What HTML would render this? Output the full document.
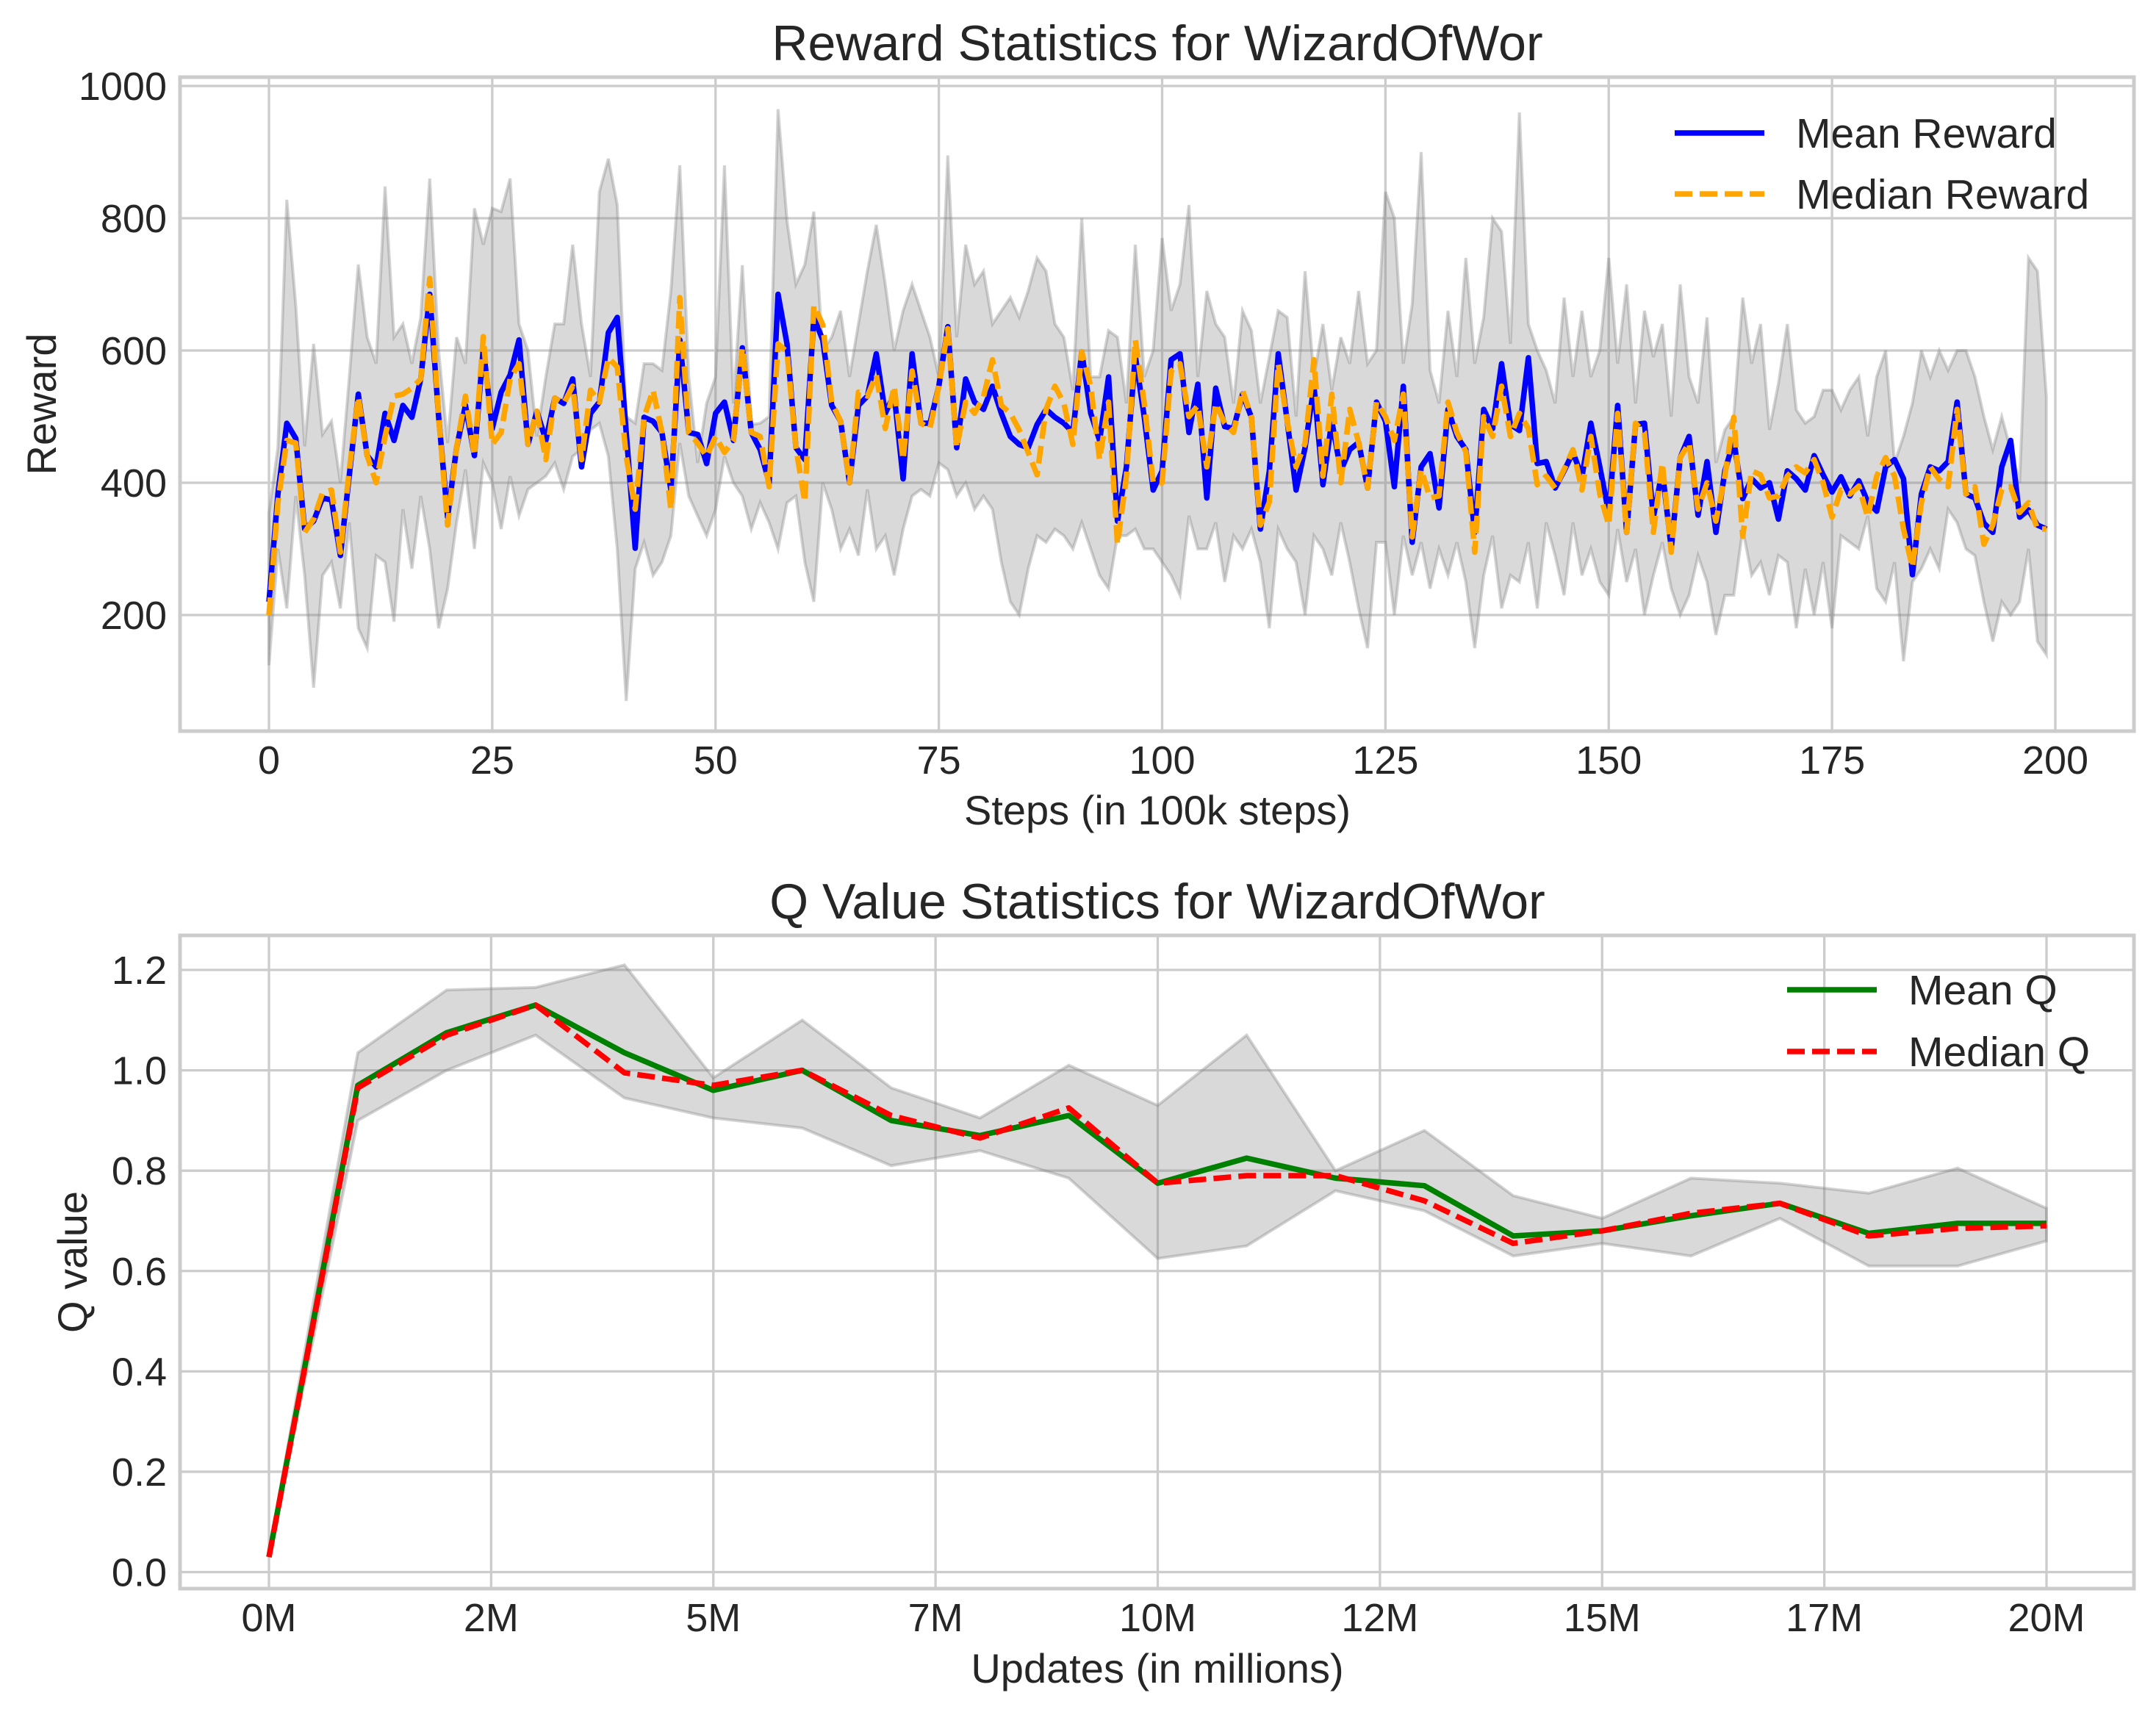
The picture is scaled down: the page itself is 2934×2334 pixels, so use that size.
<!DOCTYPE html>
<html><head><meta charset="utf-8"><title>WizardOfWor stats</title>
<style>
html,body{margin:0;padding:0;background:#fff;}
svg{display:block;font-family:"Liberation Sans",Arial,sans-serif;}
</style></head>
<body>
<svg id="fig" width="2934" height="2334" viewBox="0 0 2934 2334" xmlns="http://www.w3.org/2000/svg">
<rect x="0" y="0" width="2934" height="2334" fill="#fff"/>
<g id="top"></g>
<g id="bot"></g>
</svg>
<script>
// ---------- Reward data ----------
const rewardMean = [
220,383,490,467,330,342,377,374,290,412,
534,441,424,505,464,517,499,557,685,500,
348,453,517,441,604,482,537,563,616,458,
508,464,528,520,557,424,505,522,627,650,
476,301,499,493,476,389,616,476,473,429,
505,522,464,604,476,450,400,685,610,453,
435,650,616,517,493,400,517,531,595,505,
534,406,595,490,490,546,636,453,557,522,
511,546,505,470,458,453,488,511,499,490,
476,598,505,464,560,342,424,592,499,389,
418,586,595,476,549,377,543,485,482,534,
499,330,418,595,493,389,453,546,397,493,
418,450,461,392,522,493,394,546,310,424,
444,362,511,470,450,325,511,482,580,488,
479,589,429,432,392,418,446,409,490,424,
354,517,325,488,490,348,418,301,438,470,
351,432,325,418,464,376,406,392,400,345,
418,406,389,441,412,386,409,380,403,371,
357,424,435,406,261,383,424,418,432,522,
383,377,339,325,424,464,348,359,336,330];
const rewardMedian = [
200,370,464,460,325,345,385,389,295,420,
530,441,400,470,531,534,543,557,709,500,
336,453,531,441,621,458,476,557,580,458,
508,435,528,520,546,435,540,522,589,575,
440,360,499,540,476,360,680,476,460,440,
470,446,464,604,476,470,394,610,598,453,
371,668,639,522,493,400,537,531,563,482,
546,435,569,490,482,546,633,453,522,505,
530,586,517,505,480,446,412,511,546,520,
458,598,546,435,522,307,410,616,520,400,
400,569,580,500,517,424,520,490,476,540,
499,336,371,580,493,424,460,586,410,534,
400,511,461,392,522,500,464,534,318,420,
377,380,522,476,447,295,500,470,546,470,
505,482,397,410,392,420,450,389,470,383,
336,505,325,490,476,325,430,295,438,460,
360,400,342,410,499,319,418,412,377,380,
410,424,415,435,400,348,389,383,395,348,
410,438,410,330,272,370,424,405,394,511,
383,394,307,336,390,394,355,370,330,330];
const rewardUpper = [
354,453,828,668,455,610,473,493,400,560,
730,620,580,848,620,640,580,650,860,600,
460,620,580,815,760,815,810,860,640,600,
470,560,640,640,760,640,560,840,890,820,
500,490,580,580,570,690,880,560,430,520,
560,880,520,729,488,490,500,965,796,700,
730,810,600,620,660,560,640,720,790,700,
600,660,700,660,620,560,895,620,760,700,
720,640,660,680,650,690,740,720,640,620,
540,800,560,560,630,620,520,760,560,600,
770,660,700,820,560,690,640,620,520,660,
630,520,590,660,650,500,720,560,640,540,
620,580,690,580,600,840,800,580,670,900,
570,520,660,560,740,580,650,800,780,610,
960,640,600,570,520,680,560,660,560,600,
740,580,700,520,660,590,640,500,700,560,
520,650,430,480,500,680,580,640,480,550,
640,510,490,500,540,540,510,540,560,470,
560,600,430,470,520,600,560,600,570,600,
600,560,500,450,500,450,400,740,720,530];
const rewardLower = [
124,300,210,380,260,90,260,280,210,340,
180,150,290,280,190,360,270,380,300,180,
240,340,420,300,430,400,330,410,350,390,
400,410,430,390,440,450,480,490,440,300,
70,270,310,260,280,320,460,380,350,320,
360,440,400,380,330,370,340,300,370,380,
280,220,400,360,300,330,290,390,300,320,
260,330,380,390,380,430,420,380,400,360,
380,360,280,220,200,270,320,310,330,320,
300,340,300,260,240,320,320,330,300,300,
280,260,230,350,300,300,340,250,320,300,
330,280,180,330,300,280,200,320,300,260,
340,280,210,150,310,310,200,320,260,310,
240,300,260,310,250,150,260,320,210,260,
250,310,210,340,290,230,340,260,300,250,
230,330,250,300,200,260,310,240,200,230,
290,250,170,230,230,330,260,280,230,290,
280,180,270,200,280,180,320,310,300,350,
240,220,280,130,250,270,300,270,360,340,
300,290,220,160,220,200,220,300,160,140];
const rewardXTicks = [0,25,50,75,100,125,150,175,200];
const rewardYTicks = [200,400,600,800,1000];

// ---------- Q data ----------
const qUpdates = [0,1,2,3,4,5,6,7,8,9,10,11,12,13,14,15,16,17,18,19,20];
const qMean = [0.03,0.97,1.075,1.13,1.035,0.96,1.0,0.9,0.87,0.91,0.775,0.825,0.785,0.77,0.67,0.68,0.71,0.735,0.675,0.695,0.695];
const qMedian = [0.03,0.965,1.07,1.13,0.995,0.97,1.0,0.91,0.865,0.925,0.775,0.79,0.79,0.74,0.655,0.68,0.715,0.735,0.67,0.685,0.69];
const qUpper = [0.04,1.035,1.16,1.165,1.21,0.985,1.1,0.965,0.905,1.01,0.93,1.07,0.8,0.88,0.75,0.705,0.785,0.775,0.755,0.805,0.725];
const qLower = [0.03,0.9,1.0,1.07,0.945,0.905,0.885,0.81,0.84,0.785,0.625,0.65,0.76,0.72,0.63,0.655,0.63,0.705,0.61,0.61,0.66];
const qXTicks = [0,2.5,5,7.5,10,12.5,15,17.5,20];
const qXTickLabels = ["0M","2M","5M","7M","10M","12M","15M","17M","20M"];
const qYTicks = [0.0,0.2,0.4,0.6,0.8,1.0,1.2];
const qYTickLabels = ["0.0","0.2","0.4","0.6","0.8","1.0","1.2"];

const NS = "http://www.w3.org/2000/svg";
function mk(parent, tag, attrs, text) {
  const e = document.createElementNS(NS, tag);
  for (const k in attrs) e.setAttribute(k, attrs[k]);
  if (text !== undefined) e.textContent = text;
  parent.appendChild(e);
  return e;
}
const AX_L = 245, AX_R = 2904;
const LW = 7.5, DASH = "24 10";

function drawChart(g, cfg) {
  const {top, bottom, xs, ys} = cfg;
  const bg = mk(g, "rect", {x: AX_L, y: top, width: AX_R - AX_L, height: bottom - top, fill: "#fff"});
  
  
  cfg.yticks.forEach((t, i) => {
    const y = ys(t);
    const gl = mk(g, "line", {x1: AX_L, x2: AX_R, y1: y, y2: y, stroke: "#cccccc", "stroke-width": 3.3});
    
    
    const tl = mk(g, "text", {x: 227, y: y + 19, "text-anchor": "end", "font-size": 54, fill: "#262626"}, cfg.ylabels[i]);
    
    
  });
  cfg.xticks.forEach((t, i) => {
    const x = xs(t);
    const gl = mk(g, "line", {x1: x, x2: x, y1: top, y2: bottom, stroke: "#cccccc", "stroke-width": 3.3});
    
    
    const tl = mk(g, "text", {x: x, y: bottom + 58, "text-anchor": "middle", "font-size": 54, fill: "#262626"}, cfg.xlabels[i]);
    
    
  });
  let d = "";
  cfg.bx.forEach((v, i) => { d += (i ? "L" : "M") + xs(v).toFixed(1) + "," + ys(cfg.upper[i]).toFixed(1); });
  for (let i = cfg.bx.length - 1; i >= 0; i--) d += "L" + xs(cfg.bx[i]).toFixed(1) + "," + ys(cfg.lower[i]).toFixed(1);
  d += "Z";
  const band = mk(g, "path", {d: d, fill: "rgba(128,128,128,0.3)", stroke: "rgba(128,128,128,0.35)", "stroke-width": 4, "stroke-linejoin": "miter"});
  
  
  function line(vals, color, dash, name) {
    let p = "";
    vals.forEach((v, i) => { p += (i ? "L" : "M") + xs(cfg.bx[i]).toFixed(1) + "," + ys(v).toFixed(1); });
    const a = {d: p, fill: "none", stroke: color, "stroke-width": LW, "stroke-linejoin": "round"};
    if (dash) a["stroke-dasharray"] = dash;
    const l = mk(g, "path", a);
    
    
  }
  line(cfg.mean, cfg.c1, null, cfg.n1);
  line(cfg.median, cfg.c2, DASH, cfg.n2);
  const sp = mk(g, "rect", {x: AX_L, y: top, width: AX_R - AX_L, height: bottom - top, fill: "none", stroke: "#cccccc", "stroke-width": 5});
  
  
  const tt = mk(g, "text", {x: 1575, y: cfg.titleY, "text-anchor": "middle", "font-size": 68, fill: "#262626"}, cfg.title);
  
  
  const xl = mk(g, "text", {x: 1575, y: cfg.xlabY, "text-anchor": "middle", "font-size": 56, fill: "#262626"}, cfg.xlab);
  
  
  const cy = (top + bottom) / 2;
  const yl = mk(g, "text", {x: cfg.ylabX, y: cy, "text-anchor": "middle", "font-size": 56, fill: "#262626", transform: "rotate(-90 " + cfg.ylabX + " " + cy + ")"}, cfg.ylab);
  
  
  const lg = mk(g, "g", {});
  
  
  [[cfg.c1, null, cfg.l1, cfg.legY[0]], [cfg.c2, DASH, cfg.l2, cfg.legY[1]]].forEach(e => {
    const a = {x1: cfg.legX, x2: cfg.legX + 122, y1: e[3], y2: e[3], stroke: e[0], "stroke-width": LW};
    if (e[1]) a["stroke-dasharray"] = e[1];
    const ln = mk(lg, "line", a);
    
    
    const tx = mk(lg, "text", {x: cfg.legX + 165, y: e[3] + 20, "font-size": 57, fill: "#262626"}, e[2]);
    
    
  });
}

const rxs = v => 366 + v * 12.155;
const rys = v => 837 - (v - 200) * 0.9;
const stepsIdx = rewardMean.map((_, i) => i);
drawChart(document.getElementById("top"), {
  top: 105, bottom: 995, xs: rxs, ys: rys,
  xticks: rewardXTicks, xlabels: rewardXTicks.map(String),
  yticks: rewardYTicks, ylabels: rewardYTicks.map(String),
  bx: stepsIdx, upper: rewardUpper, lower: rewardLower, mean: rewardMean, median: rewardMedian,
  c1: "#0000ff", c2: "#ffa500", n1: "mean-reward-line", n2: "median-reward-line",
  l1: "Mean Reward", l2: "Median Reward", legX: 2279, legY: [181, 264],
  title: "Reward Statistics for WizardOfWor", titleY: 82,
  xlab: "Steps (in 100k steps)", xlabY: 1122, ylab: "Reward", ylabX: 76
});

const qxs = v => 366 + v * 120.95;
const qys = v => 2139.5 - v * 682.9;
drawChart(document.getElementById("bot"), {
  top: 1273, bottom: 2162, xs: qxs, ys: qys,
  xticks: qXTicks, xlabels: qXTickLabels,
  yticks: qYTicks, ylabels: qYTickLabels,
  bx: qUpdates, upper: qUpper, lower: qLower, mean: qMean, median: qMedian,
  c1: "#008000", c2: "#ff0000", n1: "mean-q-line", n2: "median-q-line",
  l1: "Mean Q", l2: "Median Q", legX: 2432, legY: [1347, 1431],
  title: "Q Value Statistics for WizardOfWor", titleY: 1250,
  xlab: "Updates (in millions)", xlabY: 2290, ylab: "Q value", ylabX: 118
});
</script>
</body></html>
